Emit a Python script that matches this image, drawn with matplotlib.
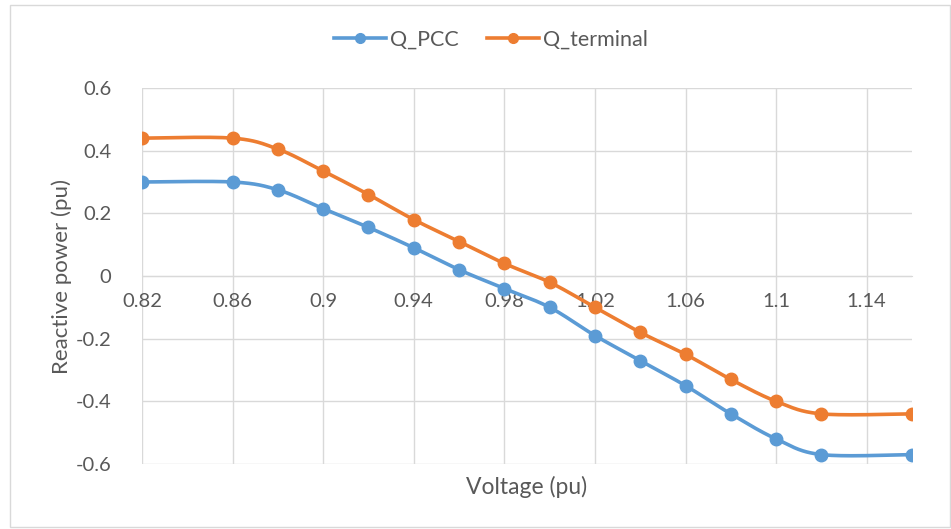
import numpy as np
import matplotlib
matplotlib.use("Agg")
import matplotlib.pyplot as plt
from matplotlib.lines import Line2D
from matplotlib.patches import Rectangle

plt.rcParams['font.family'] = ['Lato', 'DejaVu Sans']
plt.rcParams['axes.unicode_minus'] = False

voltage = [0.82, 0.86, 0.88, 0.90, 0.92, 0.94, 0.96, 0.98, 1.00, 1.02,
           1.04, 1.06, 1.08, 1.10, 1.12, 1.16]
q_pcc = [0.30, 0.30, 0.275, 0.215, 0.155, 0.09, 0.02, -0.04, -0.10, -0.19,
         -0.27, -0.35, -0.44, -0.52, -0.57, -0.57]
q_terminal = [0.44, 0.44, 0.405, 0.335, 0.26, 0.18, 0.11, 0.04, -0.02, -0.10,
              -0.18, -0.25, -0.33, -0.40, -0.44, -0.44]
x_ticks = [0.82, 0.86, 0.90, 0.94, 0.98, 1.02, 1.06, 1.10, 1.14]
x_tick_labels = ["0.82", "0.86", "0.9", "0.94", "0.98", "1.02", "1.06", "1.1", "1.14"]
y_ticks = [-0.6, -0.4, -0.2, 0.0, 0.2, 0.4, 0.6]
y_tick_labels = ["-0.6", "-0.4", "-0.2", "0", "0.2", "0.4", "0.6"]

BLUE = "#5B9BD5"
ORANGE = "#ED7D31"
GRID = "#D9D9D9"
TEXT = "#595959"


def smooth(xs, ys, n=40):
    """Bezier smoothing through every point (Catmull-Rom style control points)."""
    p = np.column_stack([xs, ys]).astype(float)
    ext = np.vstack([p[0], p, p[-1]])
    out = []
    t = np.linspace(0, 1, n)[:, None]
    for i in range(len(p) - 1):
        p0, p1 = ext[i + 1], ext[i + 2]
        c1 = p0 + (ext[i + 2] - ext[i]) / 6.0
        c2 = p1 - (ext[i + 3] - ext[i + 1]) / 6.0
        seg = ((1 - t) ** 3) * p0 + 3 * ((1 - t) ** 2) * t * c1 \
            + 3 * (1 - t) * t ** 2 * c2 + t ** 3 * p1
        out.append(seg if i == 0 else seg[1:])
    seg = np.vstack(out)
    return seg[:, 0], seg[:, 1]


fig = plt.figure(figsize=(9.51, 5.29), dpi=100)
fig.patches.append(Rectangle((10 / 951, 2 / 529), 940 / 951, 522 / 529,
                             transform=fig.transFigure, fill=False,
                             edgecolor=GRID, linewidth=1.0))

ax = fig.add_axes([142 / 951, 1 - 464 / 529, (912 - 142) / 951, (464 - 88) / 529])
ax.set_xlim(0.82, 1.16)
ax.set_ylim(-0.6, 0.6)

for name, ys, col in [("Q_PCC", q_pcc, BLUE), ("Q_terminal", q_terminal, ORANGE)]:
    sx, sy = smooth(voltage, ys)
    ax.plot(sx, sy, color=col, lw=2.6, solid_capstyle='round', zorder=3)
    ax.plot(voltage, ys, linestyle='none', marker='o', markersize=9,
            color=col, zorder=4)

ax.set_xticks(x_ticks)
ax.set_xticklabels(x_tick_labels)
ax.set_yticks(y_ticks)
ax.set_yticklabels(y_tick_labels)
ax.grid(True, color=GRID, lw=1.0)
ax.set_axisbelow(True)
for s in ['top', 'right', 'left']:
    ax.spines[s].set_visible(False)
ax.spines['bottom'].set_position(('data', 0))
ax.spines['bottom'].set_color(GRID)
ax.tick_params(axis='both', length=0, labelsize=14.5, labelcolor=TEXT)
ax.tick_params(axis='x', pad=12)
ax.tick_params(axis='y', pad=22)

fig.text(527 / 951, 1 - 487 / 529, "Voltage (pu)", ha='center', va='center',
         fontsize=16.5, color=TEXT)
fig.text(62 / 951, 1 - 277 / 529, "Reactive power (pu)", ha='center', va='center',
         rotation=90, fontsize=16, color=TEXT)

handles = [Line2D([], [], color=BLUE, lw=2.6, marker='o', markersize=7),
           Line2D([], [], color=ORANGE, lw=2.6, marker='o', markersize=7)]
leg = fig.legend(handles, ["Q_PCC", "Q_terminal"], loc='center',
                 bbox_to_anchor=(491 / 951, 1 - 40 / 529), ncol=2, frameon=False,
                 fontsize=15.5, handlelength=2.4, handletextpad=0.2,
                 columnspacing=1.3)
for t in leg.get_texts():
    t.set_color(TEXT)

fig.savefig("out.png", dpi=100, facecolor='white')
